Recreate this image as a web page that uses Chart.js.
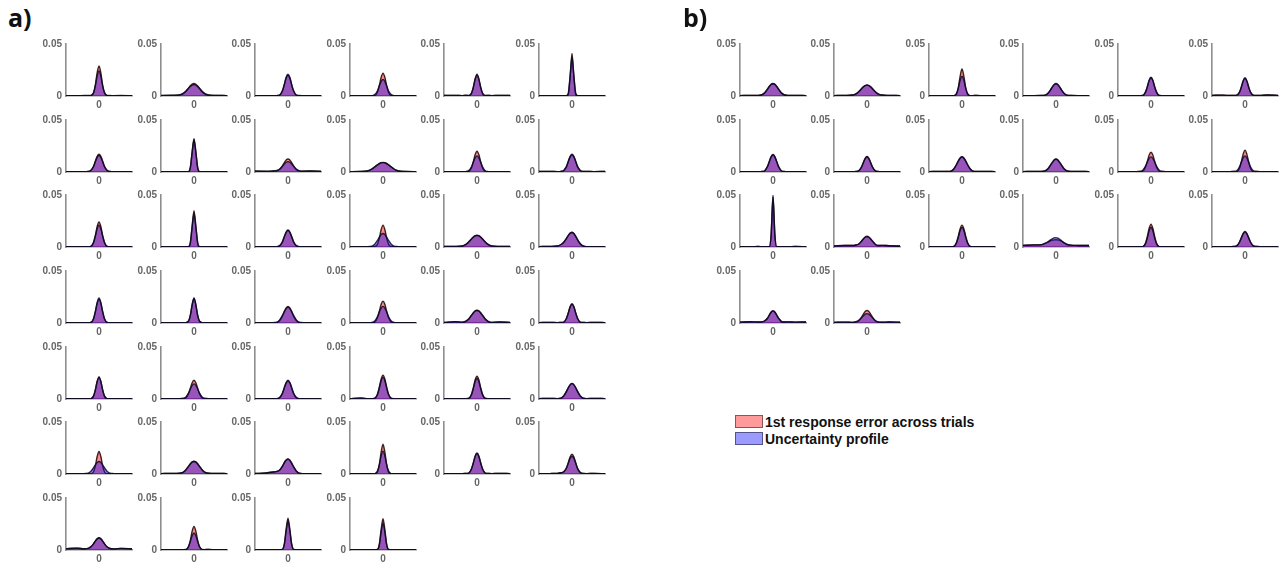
<!DOCTYPE html>
<html><head><meta charset="utf-8">
<script src="https://cdn.jsdelivr.net/npm/chart.js@4.4.0/dist/chart.umd.min.js"></script>
<style>
html,body{margin:0;padding:0;background:#fff;}
#wrap{position:relative;width:1288px;height:564px;overflow:hidden;}
#wrap canvas{position:absolute;}
.plabel{position:absolute;font-family:'Open Sans',sans-serif;font-weight:700;font-size:25px;color:#111;line-height:1;}
#legend{position:absolute;left:735px;top:413px;font-family:'Liberation Sans',Arial,sans-serif;font-weight:700;font-size:14px;color:#111;}
.lrow{display:flex;align-items:center;height:17px;}
.sw{width:28px;height:13px;box-sizing:border-box;border:1px solid rgba(0,0,0,.45);margin-right:2px;}
</style></head><body><div id="wrap"></div>
<script>
const xGrid = [-180,-120,-80,-60,-45,-30,-20,-10,0,10,20,30,45,60,80,120,180];
const yTicks = [0, 0.05];
const yTickLabels = ['0', '0.05'];
const xTicks = [0];
const xTickLabels = ['0'];
const seriesNames = ['1st response error across trials', 'Uncertainty profile'];
const panelLabels = ['a)', 'b)'];

const panelA_blue = [
[.0004,.0003,.0005,.0004,.0006,.0032,.0098,.0192,.024,.019,.0096,.0033,.0005,.0003,.0004,.0005,.0003],
[.0005,.0007,.0011,.0025,.0046,.0074,.0092,.0105,.011,.0104,.009,.0072,.0042,.0022,.0009,.0006,.0004],
[.0003,.0004,.0003,.0004,.001,.0053,.0113,.0181,.021,.018,.0112,.0052,.0009,.0005,.0004,.0003,.0004],
[.0003,.0003,.0004,.0004,.0014,.0051,.0098,.0141,.016,.014,.0097,.005,.0013,.0004,.0003,.0003,.0003],
[.0005,.0006,.0004,.0007,.0005,.0027,.0082,.016,.02,.016,.0082,.0027,.0005,.0006,.0004,.0005,.0006],
[.0003,.0002,.0003,.0003,.0002,.0004,.0031,.02,.037,.02,.0031,.0004,.0002,.0003,.0002,.0003,.0003],
[.0003,.0004,.0003,.0005,.0014,.0051,.0098,.0141,.016,.0141,.0098,.0051,.0013,.0005,.0003,.0004,.0003],
[.0003,.0003,.0002,.0003,.0003,.0004,.0042,.0189,.031,.0189,.0042,.0004,.0003,.0003,.0002,.0003,.0003],
[.0009,.0007,.001,.0016,.0029,.0056,.0077,.0094,.01,.0094,.0077,.0056,.0028,.0014,.0008,.001,.0007],
[.0004,.0005,.0013,.0029,.0048,.0068,.0079,.0087,.009,.0087,.0079,.0068,.0048,.0029,.0012,.0005,.0004],
[.0003,.0004,.0003,.0004,.0013,.005,.0095,.0136,.0155,.0136,.0095,.005,.0012,.0004,.0003,.0004,.0003],
[.0005,.0006,.0004,.0006,.0015,.0054,.0104,.015,.017,.015,.0104,.0054,.0014,.0006,.0005,.0004,.0006],
[.0003,.0004,.0003,.0003,.0007,.0044,.0105,.0176,.021,.0176,.0105,.0044,.0006,.0003,.0004,.0003,.0003],
[.0003,.0003,.0002,.0003,.0003,.0004,.0043,.0195,.032,.0195,.0043,.0004,.0003,.0003,.0002,.0003,.0003],
[.0003,.0003,.0004,.0004,.0013,.0051,.0098,.0141,.016,.0141,.0098,.0051,.0013,.0004,.0003,.0003,.0004],
[.0003,.0003,.0004,.0008,.0026,.0064,.0095,.012,.013,.012,.0095,.0064,.0026,.0008,.0004,.0003,.0003],
[.0005,.0006,.001,.0025,.0048,.0076,.0094,.0106,.011,.0106,.0094,.0076,.0048,.0025,.001,.0006,.0005],
[.0004,.0006,.001,.0024,.0046,.0084,.0112,.0133,.014,.013,.0104,.0072,.0032,.001,.0003,.0004,.0003],
[.0003,.0003,.0004,.0003,.0005,.0041,.011,.0197,.024,.0197,.011,.0041,.0005,.0003,.0004,.0003,.0003],
[.0003,.0003,.0003,.0004,.0003,.0017,.0074,.0178,.024,.0178,.0074,.0017,.0003,.0004,.0003,.0003,.0003],
[.0003,.0003,.0004,.0009,.003,.0074,.011,.0138,.015,.0138,.011,.0074,.003,.0009,.0004,.0003,.0003],
[.0003,.0003,.0003,.0005,.0019,.0062,.0106,.0144,.016,.0144,.0106,.0062,.0019,.0005,.0003,.0003,.0003],
[.0005,.0013,.0008,.0019,.0038,.0073,.0096,.0114,.012,.0114,.0096,.0073,.0038,.0016,.0006,.0009,.0005],
[.0004,.0005,.0004,.0005,.0008,.0045,.0097,.0155,.018,.0155,.0097,.0045,.0008,.0005,.0004,.0005,.0004],
[.0003,.0003,.0004,.0003,.0004,.0028,.0086,.0168,.021,.0168,.0086,.0028,.0004,.0003,.0004,.0003,.0003],
[.0003,.0004,.0004,.0005,.0017,.0057,.0096,.0131,.0145,.0131,.0096,.0057,.0017,.0005,.0004,.0004,.0003],
[.0003,.0003,.0004,.0004,.0014,.0058,.011,.0158,.018,.0158,.011,.0058,.0014,.0004,.0004,.0003,.0003],
[.0003,.0009,.0004,.0004,.0006,.0044,.0105,.0176,.021,.0176,.0105,.0044,.0006,.0004,.0003,.0004,.0003],
[.0003,.0003,.0004,.0004,.0006,.0042,.01,.0168,.02,.0168,.01,.0042,.0006,.0004,.0004,.0003,.0003],
[.0004,.0005,.0004,.0009,.003,.0074,.011,.0138,.015,.0138,.011,.0074,.003,.0009,.0004,.0005,.0004],
[.0003,.0003,.0004,.0007,.0024,.0059,.0088,.011,.012,.011,.0088,.0059,.0024,.0007,.0004,.0003,.0003],
[.0004,.0005,.0007,.0016,.0038,.0073,.0096,.0114,.012,.0114,.0096,.0073,.0038,.0016,.0007,.0005,.0004],
[.0005,.001,.0019,.0025,.0039,.0075,.011,.0132,.0143,.0131,.0104,.007,.0029,.0008,.0004,.0004,.0003],
[.0003,.0003,.0003,.0004,.0004,.003,.009,.0176,.022,.0176,.009,.003,.0004,.0004,.0003,.0003,.0003],
[.0003,.0004,.0003,.0005,.0009,.0049,.0106,.0169,.0197,.0169,.0106,.0049,.0009,.0005,.0003,.0006,.0003],
[.0003,.0004,.0006,.0012,.0022,.0058,.0104,.015,.017,.015,.0104,.0054,.0014,.0005,.0004,.0005,.0003],
[.0013,.0018,.0012,.0015,.003,.0059,.0086,.0107,.0116,.0107,.0086,.0059,.0028,.0014,.0011,.0016,.0012],
[.0003,.0003,.0003,.0004,.0005,.0034,.0082,.0138,.0164,.0138,.0082,.0034,.0005,.0004,.0005,.0003,.0003],
[.0003,.0003,.0003,.0003,.0003,.0007,.0053,.0185,.028,.0185,.0053,.0007,.0003,.0003,.0003,.0003,.0003],
[.0003,.0003,.0003,.0003,.0003,.0006,.0049,.0172,.026,.0172,.0049,.0006,.0003,.0003,.0003,.0003,.0003]
];

const panelA_red = [
[.0003,.0004,.0003,.0005,.0004,.0029,.0104,.0225,.029,.0223,.0102,.003,.0004,.0005,.0003,.0004,.0003],
[.0004,.0006,.001,.0021,.0043,.0076,.0098,.0114,.012,.0113,.0096,.0074,.0041,.0019,.0007,.0005,.0004],
[.0003,.0004,.0003,.0004,.0009,.005,.0108,.0172,.02,.0171,.0107,.005,.0008,.0004,.0004,.0003,.0004],
[.0003,.0003,.0003,.0004,.0005,.0038,.0101,.018,.022,.018,.01,.0037,.0004,.0003,.0003,.0003,.0003],
[.0005,.0005,.0004,.0006,.0004,.0028,.0086,.0168,.021,.0167,.0085,.0028,.0004,.0005,.0004,.0005,.0005],
[.0003,.0002,.0003,.0003,.0002,.0003,.0018,.0189,.041,.0189,.0018,.0003,.0002,.0003,.0002,.0003,.0003],
[.0003,.0004,.0003,.0005,.0014,.0054,.0104,.015,.017,.015,.0104,.0054,.0014,.0005,.0003,.0004,.0003],
[.0003,.0003,.0002,.0003,.0003,.0004,.0043,.0195,.032,.0195,.0043,.0004,.0003,.0003,.0002,.0003,.0003],
[.0008,.0006,.0009,.0012,.0026,.0061,.0091,.0115,.0125,.0115,.0091,.0061,.0025,.0011,.0007,.0009,.0006],
[.0004,.0005,.0013,.003,.005,.007,.0082,.009,.0093,.009,.0082,.007,.0049,.0029,.0012,.0005,.0004],
[.0003,.0004,.0003,.0004,.0007,.0042,.01,.0168,.02,.0168,.01,.0042,.0006,.0004,.0003,.0004,.0003],
[.0005,.0006,.0004,.0006,.0014,.0052,.0101,.0145,.0165,.0145,.0101,.0052,.0014,.0006,.0005,.0004,.0006],
[.0003,.0004,.0003,.0003,.0006,.0041,.011,.0197,.024,.0197,.011,.0041,.0005,.0003,.0004,.0003,.0003],
[.0003,.0003,.0002,.0003,.0003,.0003,.0038,.0201,.035,.0201,.0038,.0003,.0003,.0003,.0002,.0003,.0003],
[.0003,.0003,.0004,.0004,.0013,.0052,.01,.0144,.0163,.0144,.01,.0052,.0013,.0004,.0003,.0003,.0004],
[.0003,.0003,.0003,.0004,.0005,.0028,.0086,.0168,.021,.0168,.0086,.0028,.0005,.0004,.0003,.0003,.0003],
[.0005,.0006,.001,.0026,.005,.0078,.0096,.0109,.0113,.0109,.0096,.0078,.0049,.0026,.001,.0006,.0005],
[.0004,.0006,.001,.0024,.0046,.0083,.0111,.0132,.0142,.0129,.0103,.0071,.0031,.001,.0003,.0004,.0003],
[.0003,.0003,.0004,.0003,.0005,.0039,.0106,.0189,.023,.0189,.0106,.0039,.0005,.0003,.0004,.0003,.0003],
[.0003,.0003,.0003,.0004,.0003,.0017,.0073,.0175,.0235,.0175,.0073,.0017,.0003,.0004,.0003,.0003,.0003],
[.0003,.0003,.0004,.0006,.0024,.0069,.011,.0146,.016,.0146,.011,.0069,.0024,.0006,.0004,.0003,.0003],
[.0003,.0003,.0003,.0003,.0009,.0053,.0113,.0181,.021,.0181,.0113,.0053,.0009,.0003,.0003,.0003,.0003],
[.0005,.0012,.0008,.0019,.0039,.0075,.0099,.0118,.0124,.0118,.0099,.0075,.0039,.0016,.0006,.0009,.0005],
[.0004,.0005,.0004,.0005,.0008,.0046,.01,.0159,.0185,.0159,.01,.0046,.0008,.0005,.0004,.0005,.0004],
[.0003,.0003,.0004,.0003,.0004,.0028,.0087,.017,.0213,.017,.0087,.0028,.0004,.0003,.0004,.0003,.0003],
[.0003,.0004,.0004,.0005,.0011,.0052,.0103,.0157,.018,.0157,.0103,.0052,.0011,.0005,.0004,.0004,.0003],
[.0003,.0003,.0004,.0004,.0014,.0056,.0107,.0154,.0175,.0154,.0107,.0056,.0014,.0004,.0004,.0003,.0003],
[.0003,.0008,.0004,.0004,.0007,.0048,.0115,.0193,.023,.0193,.0115,.0048,.0007,.0004,.0003,.0004,.0003],
[.0003,.0003,.0004,.0004,.0007,.0046,.011,.0185,.022,.0185,.011,.0046,.0007,.0004,.0004,.0003,.0003],
[.0004,.0005,.0004,.0009,.0029,.0073,.0108,.0136,.0148,.0136,.0108,.0073,.0029,.0009,.0004,.0005,.0004],
[.0003,.0003,.0003,.0003,.0003,.0022,.0078,.0168,.0217,.0168,.0078,.0022,.0003,.0003,.0003,.0003,.0003],
[.0004,.0005,.0007,.0016,.0039,.0074,.0098,.0116,.0122,.0116,.0098,.0074,.0039,.0016,.0007,.0005,.0004],
[.0005,.001,.0019,.0025,.0039,.0075,.011,.0134,.0145,.0132,.0104,.007,.0029,.0008,.0004,.0004,.0003],
[.0003,.0003,.0003,.0004,.0003,.002,.0089,.0212,.0287,.0212,.0089,.002,.0003,.0004,.0003,.0003,.0003],
[.0003,.0004,.0003,.0005,.0009,.005,.0108,.0173,.0202,.0173,.0108,.005,.0009,.0005,.0003,.0006,.0003],
[.0003,.0004,.0006,.0012,.0022,.006,.0112,.0166,.019,.0166,.011,.0056,.0014,.0005,.0004,.0005,.0003],
[.0013,.0017,.0012,.0015,.003,.0059,.0086,.0108,.0118,.0108,.0086,.0059,.0028,.0014,.0011,.0016,.0012],
[.0003,.0003,.0003,.0004,.0003,.0031,.0093,.0181,.0226,.0181,.0093,.0031,.0003,.0004,.0005,.0003,.0003],
[.0003,.0003,.0003,.0003,.0003,.0007,.0058,.0201,.0305,.0201,.0058,.0007,.0003,.0003,.0003,.0003,.0003],
[.0003,.0003,.0003,.0003,.0003,.0007,.0057,.0198,.03,.0198,.0057,.0007,.0003,.0003,.0003,.0003,.0003]
];

const panelB_blue = [
[.0004,.0005,.0006,.0013,.0032,.0067,.0092,.0113,.012,.0113,.0092,.0067,.0032,.0013,.0006,.0005,.0004],
[.0004,.0006,.0009,.002,.0041,.0069,.0087,.01,.0105,.01,.0087,.0069,.0041,.002,.0009,.0006,.0004],
[.0003,.0003,.0003,.0004,.0004,.0026,.0078,.0152,.019,.0152,.0078,.0026,.0004,.0004,.0005,.0003,.0003],
[.0004,.0004,.0005,.0008,.0024,.0059,.0088,.011,.012,.011,.0088,.0059,.0024,.0008,.0005,.0004,.0004],
[.0003,.0003,.0003,.0004,.0005,.0038,.009,.0151,.018,.0151,.009,.0038,.0005,.0004,.0003,.0003,.0003],
[.0006,.0008,.0005,.0006,.0008,.0037,.0088,.0147,.0175,.0147,.0088,.0037,.0008,.0006,.0005,.0009,.0006],
[.0003,.0004,.0003,.0005,.0013,.0054,.0102,.0148,.0168,.0148,.0102,.0054,.0013,.0005,.0003,.0004,.0003],
[.0003,.0004,.0003,.0005,.0012,.0047,.0089,.0128,.0146,.0128,.0089,.0047,.0012,.0005,.0003,.0004,.0003],
[.0004,.0005,.0005,.0009,.0029,.0072,.0107,.0134,.0146,.0134,.0107,.0072,.0029,.0009,.0005,.0005,.0004],
[.0004,.0005,.0005,.001,.0029,.0066,.0092,.0115,.0123,.0115,.0092,.0066,.0029,.001,.0005,.0005,.0004],
[.0003,.0004,.0004,.0005,.0017,.0057,.0096,.0131,.0145,.0131,.0096,.0057,.0017,.0005,.0004,.0004,.0003],
[.0004,.0003,.0004,.0005,.0012,.005,.0095,.0136,.0155,.0136,.0095,.005,.0012,.0005,.0004,.0003,.0004],
[.0003,.0003,.0005,.0003,.0003,.0003,.0003,.0125,.05,.0125,.0003,.0003,.0003,.0004,.0003,.0005,.0003],
[.001,.0015,.0014,.0019,.0029,.0056,.0077,.0094,.01,.0094,.0077,.0056,.0027,.0014,.0016,.0012,.0009],
[.0003,.0003,.0004,.0004,.0006,.004,.0095,.016,.019,.016,.0095,.004,.0006,.0004,.0004,.0003,.0003],
[.0016,.002,.0022,.0034,.0048,.0068,.0079,.0087,.009,.0085,.0075,.006,.0039,.0024,.0018,.0015,.0014],
[.0003,.0003,.0004,.0003,.0004,.0032,.0087,.0156,.019,.0156,.0087,.0032,.0004,.0003,.0004,.0003,.0003],
[.0003,.0003,.0004,.0005,.0011,.0046,.0087,.0126,.0143,.0126,.0087,.0046,.0011,.0005,.0004,.0003,.0003],
[.0008,.0012,.0009,.0011,.0022,.0046,.0077,.0105,.0117,.0105,.0077,.0046,.0016,.0009,.0011,.0008,.001],
[.0006,.0008,.0006,.0012,.0025,.005,.0069,.0085,.009,.0085,.0069,.005,.0024,.0011,.0007,.001,.0007]
];

const panelB_red = [
[.0004,.0005,.0006,.0012,.0031,.0066,.0091,.0112,.0118,.0112,.0091,.0066,.0031,.0012,.0006,.0005,.0004],
[.0004,.0006,.0009,.002,.0041,.007,.0088,.0101,.0107,.0101,.0088,.007,.0041,.002,.0009,.0006,.0004],
[.0003,.0003,.0003,.0004,.0003,.0018,.0081,.0192,.026,.0192,.0081,.0018,.0003,.0004,.0005,.0003,.0003],
[.0004,.0004,.0005,.0008,.0023,.0057,.0086,.0108,.0117,.0108,.0086,.0057,.0023,.0008,.0005,.0004,.0004],
[.0003,.0003,.0003,.0004,.0005,.0037,.0088,.0148,.0176,.0148,.0088,.0037,.0005,.0004,.0003,.0003,.0003],
[.0006,.0008,.0005,.0006,.0008,.0036,.0085,.0142,.0168,.0142,.0085,.0036,.0008,.0006,.0005,.0009,.0006],
[.0003,.0004,.0003,.0005,.0013,.0053,.01,.0145,.0165,.0145,.01,.0053,.0013,.0005,.0003,.0004,.0003],
[.0003,.0004,.0003,.0005,.0012,.0048,.0091,.0131,.015,.0131,.0091,.0048,.0012,.0005,.0003,.0004,.0003],
[.0004,.0005,.0005,.0009,.0029,.0071,.0105,.0132,.0144,.0132,.0105,.0071,.0029,.0009,.0005,.0005,.0004],
[.0004,.0005,.0005,.001,.0029,.0066,.0093,.0116,.0125,.0116,.0093,.0066,.0029,.001,.0005,.0005,.0004],
[.0003,.0004,.0004,.0005,.0008,.0048,.0103,.0163,.019,.0163,.0103,.0048,.0008,.0005,.0004,.0004,.0003],
[.0004,.0003,.0004,.0005,.0005,.0036,.0097,.0172,.021,.0172,.0097,.0036,.0005,.0005,.0004,.0003,.0004],
[.0003,.0003,.0005,.0003,.0003,.0003,.0003,.0118,.048,.0118,.0003,.0003,.0003,.0004,.0003,.0005,.0003],
[.001,.0015,.0014,.0019,.0029,.0056,.0078,.0096,.0103,.0096,.0078,.0056,.0027,.0014,.0016,.0012,.0009],
[.0003,.0003,.0004,.0004,.0006,.0044,.0105,.0176,.021,.0176,.0105,.0044,.0006,.0004,.0004,.0003,.0003],
[.0016,.002,.0023,.0034,.0046,.006,.0066,.0069,.007,.0068,.0064,.0056,.0038,.0024,.0018,.0015,.0014],
[.0003,.0003,.0004,.0003,.0004,.0037,.0101,.018,.022,.018,.0101,.0037,.0004,.0003,.0004,.0003,.0003],
[.0003,.0003,.0004,.0005,.0012,.0048,.0091,.0132,.015,.0132,.0091,.0048,.0012,.0005,.0004,.0003,.0003],
[.0008,.0012,.0009,.0011,.0022,.0046,.0076,.0104,.0115,.0104,.0076,.0046,.0016,.0009,.0011,.0008,.001],
[.0006,.0008,.0006,.0011,.0022,.0056,.0086,.011,.012,.011,.0086,.0056,.0021,.001,.0007,.001,.0007]
];

// layout (pixels)
const GEO = { aLeft: 66, bLeft: 739.8, colStep: 94.5, top0: 44.3, rowStep: 75.55, plotW: 66, plotH: 52, cols: 6 };
const TICK_FONT = { family: "'Liberation Sans', Arial, sans-serif", size: 10, weight: 'bold' };
const AXIS_BORDER = { display: true, color: '#8e8e8e', width: 1.6 };
const wrap = document.getElementById('wrap');

function makeChart(canvas, red, blue) {
  const pts = arr => xGrid.map((x, i) => ({ x: x, y: arr[i] }));
  return new Chart(canvas, {
    type: 'line',
    data: { datasets: [
      { label: seriesNames[1], data: pts(blue), backgroundColor: 'rgba(0,0,255,0.4)', borderColor: 'rgba(10,10,30,0.85)',
        borderWidth: 1.4, fill: 'origin', pointRadius: 0, cubicInterpolationMode: 'monotone' },
      { label: seriesNames[0], data: pts(red), backgroundColor: 'rgba(255,0,0,0.45)', borderColor: 'rgba(30,0,0,0.85)',
        borderWidth: 1.4, fill: 'origin', pointRadius: 0, cubicInterpolationMode: 'monotone' }
    ]},
    options: {
      responsive: false, maintainAspectRatio: false, animation: false, events: [],
      layout: { padding: { top: 6, right: 4, left: 0, bottom: 0 } },
      plugins: { legend: { display: false }, tooltip: { enabled: false } },
      scales: {
        x: { type: 'linear', min: -180, max: 180,
             grid: { display: false, drawTicks: false }, border: AXIS_BORDER,
             afterBuildTicks: s => { s.ticks = xTicks.map(v => ({ value: v })); },
             ticks: { padding: 3, color: '#666', font: TICK_FONT, maxRotation: 0, autoSkip: false,
                      callback: v => xTickLabels[xTicks.indexOf(v)] },
             afterFit: s => { s.height = 16; } },
        y: { type: 'linear', min: 0, max: 0.05,
             grid: { display: false, drawTicks: false }, border: AXIS_BORDER,
             afterBuildTicks: s => { s.ticks = yTicks.map(v => ({ value: v })); },
             ticks: { padding: 4, color: '#666', font: TICK_FONT, autoSkip: false,
                      callback: v => yTickLabels[yTicks.indexOf(v)] },
             afterFit: s => { s.width = 30; } }
      }
    }
  });
}

// probe margins around chart area
const probe = document.createElement('canvas');
probe.width = 120; probe.height = 90;
wrap.appendChild(probe);
const pc = makeChart(probe, panelA_red[0], panelA_blue[0]);
const ca0 = pc.chartArea;
const M = { l: ca0.left, t: ca0.top, r: 120 - ca0.right, b: 90 - ca0.bottom };
pc.destroy(); wrap.removeChild(probe);

function addPanel(left0, idx, red, blue) {
  const c = idx % GEO.cols, r = Math.floor(idx / GEO.cols);
  const ax = Math.round(left0 + c * GEO.colStep);
  const ty = Math.round(GEO.top0 + r * GEO.rowStep);
  const cv = document.createElement('canvas');
  cv.width = Math.round(M.l + GEO.plotW + M.r);
  cv.height = Math.round(M.t + GEO.plotH + M.b);
  cv.style.left = Math.round(ax - M.l) + 'px';
  cv.style.top = Math.round(ty - M.t) + 'px';
  wrap.appendChild(cv);
  makeChart(cv, red, blue);
}

panelA_blue.forEach((b, i) => addPanel(GEO.aLeft, i, panelA_red[i], b));
panelB_blue.forEach((b, i) => addPanel(GEO.bLeft, i, panelB_red[i], b));

// panel labels
[[8, 5], [683, 5]].forEach((p, i) => {
  const d = document.createElement('div');
  d.className = 'plabel'; d.textContent = panelLabels[i];
  d.style.left = p[0] + 'px'; d.style.top = p[1] + 'px';
  wrap.appendChild(d);
});

// legend
const lg = document.createElement('div');
lg.id = 'legend';
const swColors = ['#ff9a9a', '#9a9aff'];
seriesNames.forEach((n, i) => {
  const row = document.createElement('div'); row.className = 'lrow';
  const sw = document.createElement('span'); sw.className = 'sw'; sw.style.background = swColors[i];
  const tx = document.createElement('span'); tx.textContent = n;
  row.appendChild(sw); row.appendChild(tx); lg.appendChild(row);
});
wrap.appendChild(lg);
</script></body></html>
